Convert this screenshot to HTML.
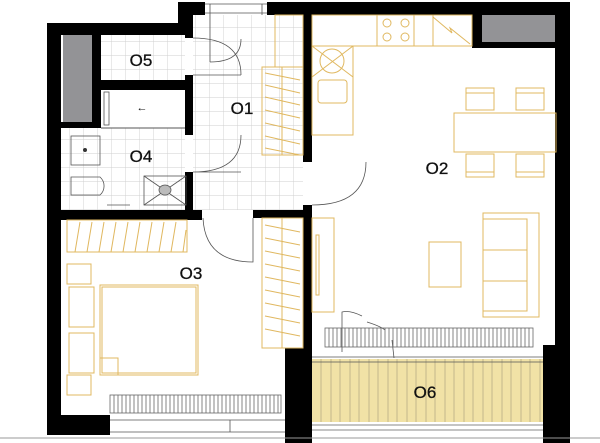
<!DOCTYPE html>
<html><head><meta charset="utf-8"><style>
html,body{margin:0;padding:0;background:#fff;width:600px;height:443px;overflow:hidden}
svg{display:block}
text{font-family:"Liberation Sans",sans-serif;font-size:17px;fill:#111;text-anchor:middle;stroke:#111;stroke-width:0.3}
</style></head><body>
<svg width="600" height="443" viewBox="0 0 600 443" xmlns="http://www.w3.org/2000/svg">
<defs>
<pattern id="tile" width="14" height="14" patternUnits="userSpaceOnUse">
<path d="M14 0V14M0 14H14" stroke="#cfcfcf" stroke-width="0.9" fill="none"/>
</pattern>
</defs>
<rect x="193" y="15" width="110" height="195" fill="url(#tile)"/>
<rect x="101" y="35" width="84" height="45" fill="url(#tile)"/>
<rect x="61" y="128" width="124" height="82" fill="url(#tile)"/>
<rect x="63" y="35" width="29" height="87" fill="#939396"/>
<rect x="482" y="15" width="73" height="27" fill="#939396"/>
<rect x="312" y="359" width="231" height="63" fill="#f1e2a6"/>
<g stroke="#b9ad86" stroke-width="0.8">
<path d="M321 359V422M331 359V422M340 359V422M350 359V422M359 359V422M369 359V422M378 359V422M388 359V422M397 359V422M407 359V422M416 359V422M426 359V422M435 359V422M445 359V422M454 359V422M464 359V422M473 359V422M483 359V422M492 359V422M502 359V422M511 359V422M521 359V422M530 359V422M540 359V422"/>
</g>
<path d="M312 425H543M312 430H543" stroke="#888" stroke-width="1"/>
<g fill="#000">
<rect x="47" y="23" width="14" height="412"/>
<rect x="47" y="23" width="146" height="12"/>
<rect x="178" y="2" width="15" height="33"/>
<rect x="178" y="2" width="27" height="13"/>
<rect x="267" y="2" width="303" height="13"/>
<rect x="555" y="2" width="15" height="355"/>
<rect x="543" y="345" width="27" height="98"/>
<rect x="472" y="15" width="10" height="33"/>
<rect x="472" y="42" width="83" height="6"/>
<rect x="92" y="35" width="9" height="93"/>
<rect x="101" y="80" width="92" height="10"/>
<rect x="61" y="122" width="40" height="6"/>
<rect x="185" y="35" width="8" height="3"/>
<rect x="185" y="75" width="8" height="60"/>
<rect x="185" y="172" width="8" height="38"/>
<rect x="47" y="210" width="155" height="10"/>
<rect x="253" y="210" width="59" height="8"/>
<rect x="303" y="15" width="9" height="147"/>
<rect x="303" y="205" width="9" height="238"/>
<rect x="285" y="348" width="27" height="95"/>
<rect x="47" y="415" width="63" height="20"/>
</g>
<path d="M101 128H185" stroke="#555" stroke-width="1"/>
<g fill="none" stroke="#555" stroke-width="0.8">
<path d="M205 4H267M205 13H267M210 4V15M262 4V15"/>
<path d="M210 15V62M210 62Q241 62 241 39"/>
<path d="M193 75H241M241 75Q241 38 193 38"/>
<path d="M193 172H241M241 135Q241 172 193 172"/>
<path d="M203 218Q205 262 253 262L253 218"/>
<path d="M312 205Q366 205 366 162"/>
<path d="M110 420H285M110 432H285M230 420V432"/>
<path d="M312 357H543M312 362H543"/>
<path d="M342 352V312Q350 310 362 316M367 322Q380 326 385 330M392 340L394 358"/>
</g>
<rect x="104" y="92" width="5" height="33" fill="none" stroke="#555" stroke-width="0.8"/>
<text x="142" y="111" style="font-size:11px;stroke:none">←</text>
<g fill="none" stroke="#555" stroke-width="0.8">
<rect x="71" y="136" width="29" height="29"/>
<path d="M71 177H100A12 12 0 0 1 100 195H71Z"/>
<rect x="144" y="176" width="42" height="29"/>
<path d="M144 176L186 205M186 176L144 205"/>
<ellipse cx="165" cy="190" rx="6" ry="5" fill="#bbb"/>
<path d="M107 205H130"/>
</g>
<circle cx="85" cy="150" r="2" fill="#333"/>
<g fill="none" stroke="#e0b860" stroke-width="1">
<rect x="275" y="15" width="28" height="52"/>
<rect x="262" y="67" width="41" height="88"/>
<path d="M282 67V155M265 73L300 80M265 85L300 93M265 97L300 105M265 110L300 118M265 123L300 131M265 136L300 144M265 148L300 155"/>
<rect x="67" y="220" width="120" height="32"/>
<path d="M75 252L80 222M87 252L92 222M99 252L104 222M111 252L116 222M123 252L128 222M135 252L140 222M147 252L152 222M159 252L164 222M171 252L176 222M183 252L186 230"/>
<rect x="262" y="218" width="41" height="130"/>
<path d="M282 218V348M265 225L300 232M265 238L300 245M265 251L300 258M265 264L300 271M265 277L300 284M265 290L300 297M265 303L300 310M265 316L300 323M265 329L300 336"/>
<rect x="100" y="285" width="98" height="90"/>
<rect x="102" y="287" width="94" height="86"/>
<path d="M100 358H118V375"/>
<rect x="67" y="264" width="24" height="20"/>
<rect x="67" y="375" width="24" height="20"/>
<rect x="69" y="287" width="25" height="40"/>
<rect x="69" y="333" width="25" height="40"/>
<rect x="312" y="15" width="160" height="31"/>
<rect x="377" y="15" width="37" height="31"/>
<circle cx="387" cy="23" r="4"/><circle cx="405" cy="23" r="4"/><circle cx="387" cy="37" r="4"/><circle cx="405" cy="37" r="4"/>
<rect x="433" y="15" width="39" height="31"/>
<path d="M433 17L452 33L450 28L470 44"/>
<rect x="312" y="46" width="41" height="89"/>
<path d="M312 46L353 77M353 46L312 77"/>
<circle cx="332" cy="61" r="12"/>
<rect x="318" y="80" width="29" height="23" rx="3"/>
<rect x="454" y="113" width="102" height="39"/>
<rect x="466" y="88" width="28" height="22"/><path d="M466 93H494"/>
<rect x="516" y="88" width="28" height="22"/><path d="M516 93H544"/>
<rect x="466" y="154" width="28" height="23"/><path d="M466 172H494"/>
<rect x="516" y="154" width="28" height="23"/><path d="M516 172H544"/>
<rect x="312" y="218" width="22" height="94"/>
<rect x="316" y="235" width="3" height="60"/>
<rect x="429" y="242" width="32" height="45"/>
<rect x="483" y="213" width="56" height="104"/>
<path d="M483 219H527V311H483M483 250H527M483 281H527"/>
</g>
<g stroke="#666" stroke-width="0.8">
<rect x="110" y="395" width="171" height="18" fill="#fff"/>
<path d="M114 395V413M118 395V413M122 395V413M126 395V413M130 395V413M134 395V413M138 395V413M142 395V413M146 395V413M150 395V413M154 395V413M158 395V413M162 395V413M166 395V413M170 395V413M174 395V413M178 395V413M182 395V413M186 395V413M190 395V413M194 395V413M198 395V413M202 395V413M206 395V413M210 395V413M214 395V413M218 395V413M222 395V413M226 395V413M230 395V413M234 395V413M238 395V413M242 395V413M246 395V413M250 395V413M254 395V413M258 395V413M262 395V413M266 395V413M270 395V413M274 395V413M278 395V413"/>
<rect x="325" y="328" width="208" height="19" fill="none"/>
<path d="M329 328V347M333 328V347M337 328V347M341 328V347M345 328V347M349 328V347M353 328V347M357 328V347M361 328V347M365 328V347M369 328V347M373 328V347M377 328V347M381 328V347M385 328V347M389 328V347M393 328V347M397 328V347M401 328V347M405 328V347M409 328V347M413 328V347M417 328V347M421 328V347M425 328V347M429 328V347M433 328V347M437 328V347M441 328V347M445 328V347M449 328V347M453 328V347M457 328V347M461 328V347M465 328V347M469 328V347M473 328V347M477 328V347M481 328V347M485 328V347M489 328V347M493 328V347M497 328V347M501 328V347M505 328V347M509 328V347M513 328V347M517 328V347M521 328V347M525 328V347M529 328V347"/>
</g>
<path d="M0 438H600" stroke="#999" stroke-width="1"/>
<text x="141" y="66">O5</text>
<text x="242" y="114">O1</text>
<text x="141" y="162">O4</text>
<text x="437" y="174">O2</text>
<text x="191" y="279">O3</text>
<text x="425" y="398">O6</text>
</svg>
</body></html>
